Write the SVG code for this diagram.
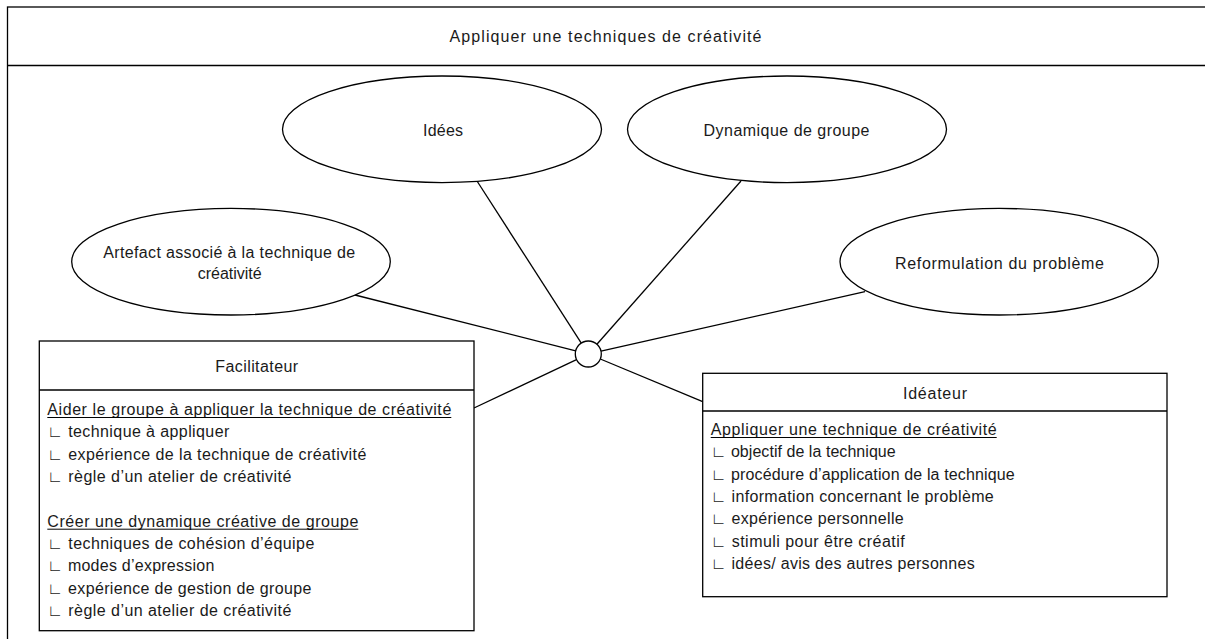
<svg xmlns="http://www.w3.org/2000/svg" width="1205" height="639" viewBox="0 0 1205 639">
<style>
.frame{fill:#fff;stroke:#000;stroke-width:1.3}
.shape{fill:#fff;stroke:#000;stroke-width:1.3}
.conn{stroke:#000;stroke-width:1.3;fill:none}
.ul{stroke:#000;stroke-width:1}
text{font-family:"Liberation Sans","DejaVu Sans",Arial,sans-serif;font-size:16px;fill:#1a1a1a}
.c{text-anchor:middle}
</style>
<rect width="1205" height="639" fill="#fff"/>
<g id="frame">
<rect class="frame" x="7.5" y="7" width="1210" height="650"/>
<line class="frame" x1="7.5" y1="65.5" x2="1217" y2="65.5"/>
<text class="c" x="605.5" y="42.3" textLength="312">Appliquer une techniques de créativité</text>
</g>
<g id="connectors">
<line class="conn" x1="477" y1="181" x2="581.3" y2="343.1"/>
<line class="conn" x1="741" y1="181" x2="596.9" y2="344.3"/>
<line class="conn" x1="355" y1="295" x2="575.7" y2="350.8"/>
<line class="conn" x1="865" y1="291.7" x2="601" y2="351.1"/>
<line class="conn" x1="474" y1="408" x2="576.5" y2="359.6"/>
<line class="conn" x1="702.7" y1="401.7" x2="600.3" y2="359"/>
</g>
<g id="hub">
<circle class="shape" cx="588.3" cy="354" r="13"/>
</g>
<g id="idees">
<ellipse class="shape" cx="442" cy="129.3" rx="159.5" ry="53.3"/>
<text class="c" x="443" y="136" textLength="40">Idées</text>
</g>
<g id="dynamique">
<ellipse class="shape" cx="787" cy="129.3" rx="159.5" ry="53.3"/>
<text class="c" x="786.5" y="136" textLength="166">Dynamique de groupe</text>
</g>
<g id="artefact">
<ellipse class="shape" cx="231" cy="261.7" rx="159.3" ry="53.3"/>
<text class="c" x="229.2" y="258" textLength="252">Artefact associé à la technique de</text>
<text class="c" x="229.7" y="279" textLength="64">créativité</text>
</g>
<g id="reformulation">
<ellipse class="shape" cx="999.2" cy="261.7" rx="159.2" ry="53.3"/>
<text class="c" x="999.5" y="269" textLength="209">Reformulation du problème</text>
</g>
<g id="facilitateur">
<rect class="shape" x="39.3" y="341" width="434.7" height="289.7"/>
<line class="shape" x1="39.3" y1="390" x2="474" y2="390"/>
<text class="c" x="256.7" y="372" textLength="83">Facilitateur</text>
<text x="47.3" y="415" textLength="404">Aider le groupe à appliquer la technique de créativité</text>
<line class="ul" x1="47.3" y1="417.5" x2="451.3" y2="417.5"/>
<text x="47.3" y="437.3" textLength="182">∟ technique à appliquer</text>
<text x="47.3" y="459.7" textLength="319">∟ expérience de la technique de créativité</text>
<text x="47.3" y="482" textLength="244">∟ règle d’un atelier de créativité</text>
<text x="47.3" y="526.7" textLength="311">Créer une dynamique créative de groupe</text>
<line class="ul" x1="47.3" y1="529.2" x2="358.3" y2="529.2"/>
<text x="47.3" y="549" textLength="267">∟ techniques de cohésion d’équipe</text>
<text x="47.3" y="571.3" textLength="167">∟ modes d’expression</text>
<text x="47.3" y="593.7" textLength="264">∟ expérience de gestion de groupe</text>
<text x="47.3" y="616" textLength="244">∟ règle d’un atelier de créativité</text>
</g>
<g id="ideateur">
<rect class="shape" x="702.7" y="373.3" width="464.3" height="223.4"/>
<line class="shape" x1="702.7" y1="411" x2="1167" y2="411"/>
<text class="c" x="935" y="399.3" textLength="64">Idéateur</text>
<text x="710.7" y="435" textLength="286">Appliquer une technique de créativité</text>
<line class="ul" x1="710.7" y1="437.5" x2="996.7" y2="437.5"/>
<text x="710.7" y="457.3" textLength="185">∟ objectif de la technique</text>
<text x="710.7" y="479.7" textLength="304">∟ procédure d’application de la technique</text>
<text x="710.7" y="502" textLength="283">∟ information concernant le problème</text>
<text x="710.7" y="524.3" textLength="193">∟ expérience personnelle</text>
<text x="710.7" y="546.7" textLength="194">∟ stimuli pour être créatif</text>
<text x="710.7" y="569" textLength="264">∟ idées/ avis des autres personnes</text>
</g>
</svg>
